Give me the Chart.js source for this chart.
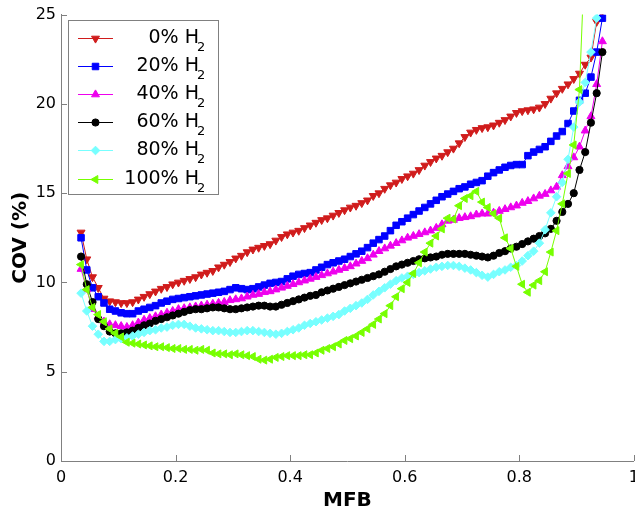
<!DOCTYPE html>
<html><head><meta charset="utf-8">
<script src="https://cdn.jsdelivr.net/npm/chart.js@4/dist/chart.umd.min.js"></script>
<style>
html,body{margin:0;padding:0;overflow:hidden;background:#fff;width:635px;height:513px}
#wrap{position:absolute;left:0;top:0;width:646px;height:513px}
</style>
</head><body><div id="wrap"><canvas id="c" width="646" height="513"></canvas></div>
<script>
// ---- data ----
const mfb = [0.035,0.045,0.055,0.065,0.075,0.085,0.095,0.105,0.115,0.125,
0.135,0.145,0.155,0.165,0.175,0.185,0.195,0.205,0.215,0.225,
0.235,0.245,0.255,0.265,0.275,0.285,0.295,0.305,0.315,0.325,
0.335,0.345,0.355,0.365,0.375,0.385,0.395,0.405,0.415,0.425,
0.435,0.445,0.455,0.465,0.475,0.485,0.495,0.505,0.515,0.525,
0.535,0.545,0.555,0.565,0.575,0.585,0.595,0.605,0.615,0.625,
0.635,0.645,0.655,0.665,0.675,0.685,0.695,0.705,0.715,0.725,
0.735,0.745,0.755,0.765,0.775,0.785,0.795,0.805,0.815,0.825,
0.835,0.845,0.855,0.865,0.875,0.885,0.895,0.905,0.915,0.925,
0.935,0.945];

const cov0 = [12.8,11.3,10.3,9.7,9.1,8.95,8.9,8.85,8.85,8.9,
9.05,9.2,9.35,9.5,9.65,9.75,9.9,10.0,10.1,10.2,
10.3,10.45,10.55,10.65,10.85,11.0,11.15,11.35,11.5,11.7,
11.85,11.95,12.05,12.15,12.35,12.55,12.7,12.8,12.9,13.05,
13.2,13.35,13.5,13.6,13.75,13.9,14.05,14.2,14.3,14.45,
14.6,14.85,15.0,15.25,15.45,15.6,15.8,15.95,16.1,16.3,
16.55,16.75,16.95,17.1,17.3,17.5,17.8,18.15,18.4,18.55,
18.65,18.7,18.8,18.95,19.1,19.3,19.5,19.6,19.65,19.7,
19.8,20.0,20.3,20.6,20.85,21.1,21.4,21.7,22.2,22.6,
24.6,25.2];

const cov20 = [12.5,10.7,9.7,9.2,8.85,8.5,8.4,8.3,8.25,8.25,
8.4,8.5,8.6,8.7,8.85,8.95,9.05,9.1,9.15,9.2,
9.25,9.3,9.35,9.4,9.45,9.5,9.6,9.7,9.65,9.6,
9.65,9.75,9.85,9.95,10.0,10.05,10.2,10.35,10.45,10.5,
10.55,10.7,10.85,11.0,11.1,11.2,11.3,11.45,11.6,11.75,
11.95,12.2,12.4,12.6,12.9,13.2,13.4,13.6,13.8,14.0,
14.2,14.4,14.6,14.8,14.95,15.1,15.25,15.35,15.5,15.6,
15.7,15.95,16.15,16.3,16.45,16.55,16.6,16.6,17.1,17.3,
17.45,17.6,17.9,18.2,18.45,18.9,19.6,20.2,20.6,21.5,
22.9,24.8];

const cov40 = [10.75,9.6,8.5,8.1,7.8,7.65,7.6,7.55,7.5,7.6,
7.75,7.9,8.0,8.1,8.2,8.3,8.4,8.5,8.55,8.6,
8.65,8.7,8.75,8.8,8.85,8.9,9.0,9.05,9.1,9.2,
9.3,9.35,9.45,9.5,9.6,9.7,9.8,9.9,10.0,10.1,
10.2,10.3,10.4,10.5,10.6,10.7,10.8,10.9,11.05,11.2,
11.35,11.55,11.75,11.9,12.05,12.2,12.35,12.5,12.6,12.7,
12.8,12.9,13.05,13.25,13.45,13.5,13.6,13.65,13.7,13.8,
13.85,13.85,13.9,14.0,14.1,14.2,14.3,14.45,14.55,14.7,
14.85,14.95,15.15,15.35,16.0,16.5,17.0,17.6,18.5,19.3,
21.1,23.5];

const cov60 = [11.45,9.9,8.9,7.95,7.55,7.25,7.15,7.15,7.2,7.3,
7.45,7.6,7.7,7.85,7.95,8.05,8.15,8.25,8.35,8.45,
8.5,8.5,8.55,8.6,8.6,8.55,8.5,8.5,8.55,8.6,
8.65,8.7,8.7,8.65,8.65,8.75,8.85,8.95,9.05,9.15,
9.25,9.3,9.45,9.55,9.65,9.75,9.85,9.95,10.05,10.15,
10.25,10.35,10.45,10.6,10.75,10.9,11.0,11.1,11.2,11.3,
11.35,11.4,11.45,11.55,11.6,11.6,11.6,11.6,11.55,11.5,
11.45,11.4,11.5,11.65,11.75,11.9,12.0,12.15,12.3,12.45,
12.6,12.75,13.0,13.45,13.95,14.4,15.0,16.3,17.3,18.95,
20.6,22.9];

const cov80 = [9.4,8.4,7.55,7.1,6.7,6.7,6.8,6.85,6.9,7.0,
7.1,7.2,7.3,7.35,7.45,7.5,7.6,7.65,7.65,7.55,
7.45,7.4,7.35,7.3,7.3,7.25,7.2,7.2,7.25,7.3,
7.3,7.25,7.2,7.15,7.1,7.15,7.25,7.35,7.45,7.6,
7.7,7.8,7.9,8.0,8.1,8.2,8.4,8.55,8.7,8.85,
9.05,9.3,9.5,9.7,9.9,10.1,10.25,10.35,10.45,10.55,
10.65,10.75,10.85,10.9,10.95,10.95,10.9,10.8,10.7,10.55,
10.4,10.3,10.45,10.6,10.7,10.85,10.95,11.2,11.5,11.75,
12.2,12.95,13.9,14.8,15.6,16.9,18.7,20.1,21.2,22.9,
24.8,26.0];

const cov100 = [11.0,9.6,8.6,8.2,7.8,7.4,7.15,6.95,6.65,6.6,
6.55,6.5,6.45,6.4,6.4,6.35,6.3,6.3,6.25,6.25,
6.2,6.25,6.2,6.05,6.0,6.0,5.95,6.0,5.95,5.9,
5.85,5.7,5.65,5.7,5.8,5.85,5.9,5.9,5.9,5.95,
5.95,6.05,6.2,6.3,6.4,6.55,6.75,6.85,7.0,7.2,
7.4,7.65,7.95,8.25,8.7,9.2,9.65,10.0,10.5,11.1,
11.7,12.2,12.6,13.0,13.6,13.55,14.3,14.7,14.85,15.1,
14.5,14.2,13.85,13.6,12.5,11.9,10.9,9.9,9.45,9.85,
10.1,10.6,11.7,12.9,14.4,16.1,17.7,20.8,29.0,null,
null,null];

const seriesNames = ['0% H2','20% H2','40% H2','60% H2','80% H2','100% H2'];
const xTicks = [0,0.2,0.4,0.6,0.8,1];
const yTicks = [0,5,10,15,20,25];
const xTitle = 'MFB';
const yTitle = 'COV (%)';

// ---- styling ----
const FONT = '"DejaVu Sans", "Liberation Sans", Arial, sans-serif';
const colors = ['#d01c1c','#0000ff','#ee00ee','#000000','#77ffff','#77ff00'];
const markers = [
  {style:'triangle', rot:180, r:4.6},
  {style:'rect', rot:0, r:4.6},
  {style:'triangle', rot:0, r:4.6},
  {style:'circle', rot:0, r:3.6},
  {style:'rectRot', rot:0, r:4.3},
  {style:'triangle', rot:-90, r:4.6}
];
const allSeries = [cov0, cov20, cov40, cov60, cov80, cov100];
const AXIS_COLOR = '#808080';

const datasets = allSeries.map((vals, k) => ({
  label: seriesNames[k],
  data: mfb.map((x, i) => ({x: x, y: vals[i]})).filter(p => p.y !== null),
  borderColor: colors[k],
  backgroundColor: colors[k],
  borderWidth: 1,
  pointStyle: markers[k].style,
  pointRotation: markers[k].rot,
  pointRadius: markers[k].r,
  pointBorderWidth: 1,
  pointBackgroundColor: colors[k],
  pointBorderColor: colors[k],
  tension: 0,
  fill: false,
  order: 6 - k
}));

const insideTicks = {
  id: 'insideTicks',
  afterDatasetsDraw(chart) {
    const ctx = chart.ctx, xs = chart.scales.x, ys = chart.scales.y;
    const a = chart.chartArea;
    ctx.save();
    ctx.strokeStyle = AXIS_COLOR;
    ctx.lineWidth = 1;
    ctx.beginPath();
    xTicks.forEach(v => {
      const px = Math.round(xs.getPixelForValue(v)) + 0.5;
      ctx.moveTo(px, a.bottom); ctx.lineTo(px, a.bottom - 6);
    });
    yTicks.forEach(v => {
      const py = Math.round(ys.getPixelForValue(v)) + 0.5;
      ctx.moveTo(a.left, py); ctx.lineTo(a.left + 6, py);
    });
    ctx.stroke();
    ctx.restore();
  }
};

const boxLegend = {
  id: 'boxLegend',
  afterDraw(chart) {
    const ctx = chart.ctx;
    const bx = 68, by = 20, bw = 150, bh = 174;
    ctx.save();
    ctx.fillStyle = '#ffffff';
    ctx.fillRect(bx, by, bw, bh);
    ctx.strokeStyle = AXIS_COLOR;
    ctx.lineWidth = 1;
    ctx.strokeRect(bx + 0.5, by + 0.5, bw, bh);
    chart.data.datasets.forEach((ds, k) => {
      const cy = 37.5 + k * 28.2;
      const yy = Math.round(cy) + 0.5;
      ctx.strokeStyle = ds.borderColor;
      ctx.fillStyle = ds.borderColor;
      ctx.lineWidth = 1;
      ctx.beginPath();
      ctx.moveTo(78, yy);
      ctx.lineTo(113, yy);
      ctx.stroke();
      Chart.helpers.drawPoint(ctx, {
        pointStyle: ds.pointStyle, rotation: ds.pointRotation,
        radius: ds.pointRadius, borderWidth: 1
      }, 95.5, yy);
      const name = ds.label;
      const main = name.slice(0, -1), sub = name.slice(-1);
      ctx.fillStyle = '#000';
      ctx.font = '19px ' + FONT;
      ctx.textAlign = 'right';
      ctx.textBaseline = 'alphabetic';
      ctx.fillText(main, 199, cy + 5);
      ctx.font = '13px ' + FONT;
      ctx.textAlign = 'left';
      ctx.fillText(sub, 197, cy + 13);
    });
    ctx.restore();
  }
};

Chart.defaults.font.family = FONT;
Chart.defaults.color = '#000';

new Chart(document.getElementById('c'), {
  type: 'line',
  data: { datasets },
  plugins: [insideTicks, boxLegend],
  options: {
    responsive: false,
    animation: false,
    events: [],
    layout: { padding: { top: 14, right: 0, bottom: 0, left: 0 } },
    plugins: { legend: { display: false }, tooltip: { enabled: false } },
    scales: {
      x: {
        type: 'linear', min: 0, max: 1,
        afterBuildTicks: s => { s.ticks = xTicks.map(v => ({value: v})); },
        afterFit: s => { s.height = 52; },
        grid: { display: false, drawTicks: false },
        border: { display: true, color: AXIS_COLOR, width: 1 },
        ticks: { font: { size: 16 }, color: '#000', padding: 7, maxRotation: 0, autoSkip: false,
                 callback: v => String(v) },
        title: { display: true, text: xTitle, font: { size: 20, weight: 'bold' }, color: '#000', padding: { top: 0, bottom: 0 } }
      },
      y: {
        type: 'linear', min: 0, max: 25,
        afterBuildTicks: s => { s.ticks = yTicks.map(v => ({value: v})); },
        afterFit: s => { s.width = 61; },
        grid: { display: false, drawTicks: false },
        border: { display: true, color: AXIS_COLOR, width: 1 },
        ticks: { font: { size: 16 }, color: '#000', padding: 5, autoSkip: false,
                 callback: v => String(v) },
        title: { display: true, text: yTitle, font: { size: 20, weight: 'bold' }, color: '#000', padding: { top: 9, bottom: 9 } }
      }
    }
  }
});
</script>
</body></html>
